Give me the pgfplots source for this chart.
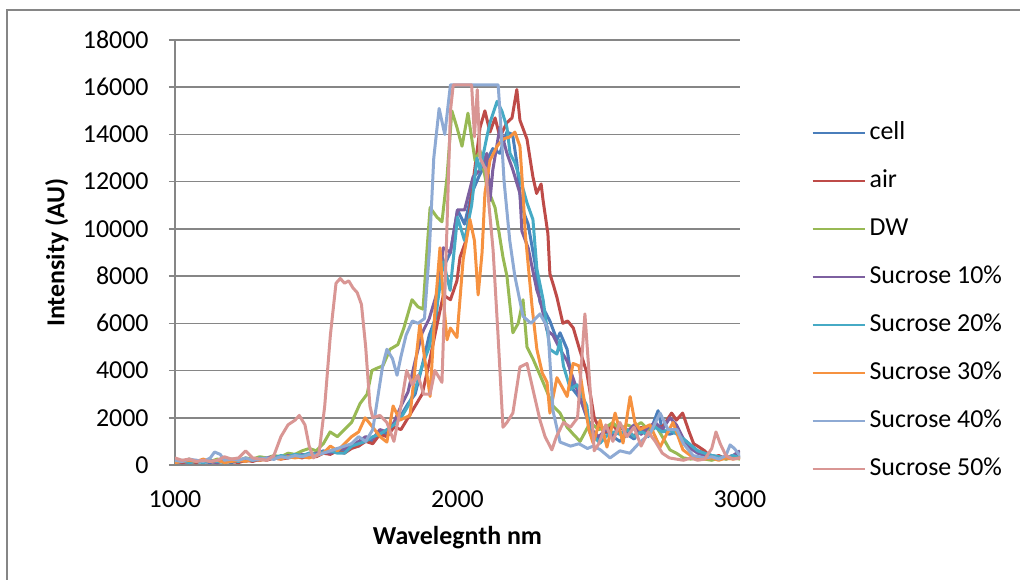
\documentclass[border=0pt]{standalone}
\usepackage{fontspec}
\setmainfont{Carlito}
\usepackage{pgfplots}
\pgfplotsset{compat=1.18}
\definecolor{gridgray}{HTML}{868686}
\definecolor{cCell}{HTML}{4A7EBB}
\definecolor{cAir}{HTML}{BE4B48}
\definecolor{cDW}{HTML}{98B954}
\definecolor{cSten}{HTML}{7D60A0}
\definecolor{cStwenty}{HTML}{46AAC5}
\definecolor{cSthirty}{HTML}{F69240}
\definecolor{cSforty}{HTML}{8EAAD4}
\definecolor{cSfifty}{HTML}{D99694}
\newcommand{\chartfont}{\fontsize{13}{15.6}\selectfont}

\begin{document}
\chartfont
\begin{tikzpicture}
\useasboundingbox (0,0) rectangle (510bp,290bp);
\draw[gridgray, line width=0.75bp] (3.5bp,0) -- (3.5bp,285bp) -- (510bp,285bp);
\begin{axis}[
  at={(87.5bp,57.5bp)}, anchor=south west,
  scale only axis, width=282.5bp, height=212.5bp,
  xmin=1000, xmax=3000, ymin=0, ymax=18000,
  xtick={1000,2000,3000}, ytick={0,2000,...,18000},
  scaled ticks=false,
  /pgf/number format/1000 sep={},
  /pgf/number format/assume math mode=true,
  axis x line*=bottom, axis y line*=left,
  axis line style={gridgray, line width=0.75bp},
  ymajorgrids, major grid style={gridgray, line width=0.75bp},
  tick align=outside, major tick length=3bp,
  tick style={gridgray, line width=0.75bp},
  x tick style={draw=none},
  tick label style={font=\chartfont},
  yticklabel style={anchor=east, inner sep=0pt, xshift=-10bp},
  xticklabel style={anchor=north, inner sep=0pt, yshift=-9.5bp},
  xlabel={\textbf{Wavelegnth nm}}, ylabel={\textbf{Intensity (AU)}},
  label style={font=\chartfont},
  xlabel style={at={(axis description cs:0.5,-0.172)}, anchor=center},
  ylabel style={at={(axis description cs:-0.209,0.5)}, anchor=center},
  no markers,
  every axis plot/.append style={line width=1.5bp, line join=round},
  legend cell align=left,
  legend style={at={(1.126,0.385)}, anchor=west, draw=none, fill=none,
    inner sep=0pt, row sep=12bp, column sep=2bp,
    nodes={inner sep=0pt, text height=9bp, text depth=3bp, font=\chartfont}},
  legend image code/.code={\draw[#1, line width=1bp] (0bp,0bp) -- (26bp,0bp);},
]
% cell
\addplot[cCell] coordinates {
(1000,150)(1025,100)(1050,200)(1075,120)(1100,150)(1125,100)(1150,200)(1175,150)(1200,100)
(1225,200)(1250,150)(1275,250)(1300,200)(1325,300)(1350,250)(1375,350)(1400,300)(1425,400)
(1450,350)(1475,500)(1500,450)(1525,600)(1550,500)(1575,700)(1600,600)(1625,900)(1650,800)
(1675,1100)(1700,1000)(1725,1400)(1750,1300)(1775,1700)(1800,2100)(1825,2600)(1850,3000)
(1875,4200)(1900,5500)(1925,6300)(1940,9000)(1955,8500)(1975,9000)(2000,10800)(2025,10200)
(2050,11500)(2075,12200)(2100,12800)(2125,13400)(2150,13200)(2175,14100)(2195,14000)(2210,12800)
(2225,11000)(2250,10200)(2275,8500)(2292,6900)(2327,6100)(2352,5300)(2363,5600)(2388,4900)
(2409,3200)(2435,2800)(2458,2000)(2480,1200)(2500,1100)(2525,1400)(2550,1200)(2575,1000)
(2600,1300)(2625,1100)(2650,1500)(2675,1200)(2710,2300)(2725,1500)(2750,1300)(2775,1400)
(2800,1100)(2834,760)(2850,600)(2875,500)(2900,400)(2925,350)(2950,300)(2975,400)(3000,350)};
% air
\addplot[cAir] coordinates {
(1000,200)(1025,100)(1050,150)(1075,100)(1100,200)(1125,150)(1150,100)(1175,200)(1200,150)
(1225,100)(1250,200)(1275,150)(1300,250)(1325,200)(1350,300)(1375,250)(1400,300)(1425,350)
(1450,300)(1475,400)(1500,350)(1525,500)(1550,450)(1575,600)(1600,500)(1625,700)(1650,800)
(1675,1000)(1700,900)(1725,1300)(1750,1200)(1775,1600)(1800,1500)(1825,2000)(1850,2500)
(1875,3000)(1903,4500)(1925,5800)(1950,7200)(1975,7000)(1998,7800)(2009,8800)(2030,9500)
(2050,11500)(2080,14300)(2097,15000)(2115,14100)(2133,14700)(2150,13900)(2175,14500)(2193,14700)
(2210,15900)(2221,14600)(2246,13800)(2267,12200)(2280,11500)(2296,11900)(2303,11200)(2320,9800)
(2327,8100)(2340,7600)(2352,7100)(2373,6000)(2390,6100)(2410,5800)(2432,4900)(2458,3900)
(2484,2000)(2500,1600)(2525,1400)(2550,1700)(2575,1300)(2600,1500)(2625,1200)(2650,1600)
(2675,1400)(2700,1700)(2725,1600)(2758,2200)(2775,1900)(2797,2200)(2820,1400)(2836,900)
(2850,800)(2875,600)(2900,300)(2925,400)(2950,250)(2975,350)(3000,300)};
% DW
\addplot[cDW] coordinates {
(1000,200)(1025,150)(1050,250)(1075,150)(1100,200)(1125,150)(1150,250)(1175,200)(1200,250)
(1225,200)(1250,300)(1275,250)(1300,350)(1325,300)(1350,400)(1375,350)(1400,500)(1425,450)
(1450,600)(1475,700)(1500,600)(1525,900)(1549,1400)(1575,1200)(1600,1500)(1625,1800)
(1655,2600)(1680,3000)(1697,4000)(1715,4100)(1736,4200)(1761,4900)(1789,5100)(1810,5800)
(1839,7000)(1860,6700)(1878,6600)(1892,9100)(1903,10900)(1927,10500)(1945,10300)(1963,12200)
(1980,15000)(1998,14300)(2016,13500)(2037,14900)(2062,12900)(2080,13300)(2104,11800)
(2133,10900)(2161,8800)(2175,8000)(2196,5600)(2215,6000)(2232,7000)(2246,5000)(2267,4500)
(2303,3500)(2338,2500)(2363,2200)(2388,1600)(2410,1300)(2434,1000)(2470,1800)(2500,1500)
(2525,1600)(2550,1800)(2575,1500)(2600,1700)(2625,1600)(2650,1800)(2675,1500)(2700,1700)
(2725,1200)(2752,640)(2775,500)(2800,300)(2825,250)(2850,300)(2875,250)(2900,200)(2925,300)
(2950,250)(2975,300)(3000,250)};
% Sucrose 10%
\addplot[cSten] coordinates {
(1000,100)(1025,150)(1050,100)(1075,200)(1100,120)(1125,150)(1150,100)(1175,200)(1200,150)
(1225,250)(1250,200)(1275,250)(1300,200)(1325,300)(1350,350)(1375,300)(1400,400)(1425,350)
(1450,450)(1475,400)(1500,500)(1525,550)(1550,500)(1575,650)(1600,700)(1625,800)(1650,1000)
(1675,1200)(1700,1100)(1725,1500)(1750,1400)(1775,1800)(1800,2500)(1825,3100)(1850,4400)
(1875,5600)(1900,6200)(1925,7200)(1950,9200)(1975,9000)(2000,10800)(2025,10800)(2055,12200)
(2080,12500)(2104,13200)(2115,11200)(2125,12500)(2150,14300)(2175,13200)(2196,12500)
(2221,11500)(2228,9900)(2250,9200)(2281,7400)(2292,7000)(2317,5700)(2338,5500)(2363,4900)
(2388,4400)(2423,3200)(2450,2300)(2475,1500)(2500,1200)(2525,1500)(2550,1300)(2575,1600)
(2600,1400)(2625,1700)(2650,1300)(2675,1600)(2700,1800)(2725,1500)(2752,2000)(2775,1700)
(2800,1100)(2825,700)(2850,500)(2875,400)(2900,300)(2925,250)(2950,300)(2975,400)(3000,600)};
% Sucrose 20%
\addplot[cStwenty] coordinates {
(1000,150)(1025,200)(1050,100)(1075,150)(1100,100)(1125,200)(1150,150)(1175,100)(1200,200)
(1225,150)(1250,250)(1275,200)(1300,300)(1325,250)(1350,300)(1375,400)(1400,350)(1425,450)
(1450,400)(1475,500)(1500,450)(1525,550)(1550,600)(1575,500)(1600,500)(1625,800)(1650,900)
(1675,1000)(1700,1200)(1725,1300)(1750,1500)(1775,1700)(1800,2000)(1825,2500)(1850,3200)
(1875,4200)(1900,5000)(1925,6500)(1950,8600)(1974,7400)(2000,10500)(2025,9500)(2050,11000)
(2069,13000)(2080,12500)(2104,13900)(2115,14500)(2140,15400)(2157,15000)(2175,14300)
(2186,13200)(2203,12800)(2225,12000)(2246,11100)(2267,10400)(2281,8300)(2303,7000)(2327,4900)
(2352,4700)(2363,5300)(2375,4200)(2400,3200)(2423,3400)(2458,2500)(2469,1350)(2505,930)
(2525,1200)(2550,1400)(2575,1300)(2600,1500)(2625,1200)(2650,1400)(2675,1300)(2700,1600)
(2725,1400)(2750,1500)(2777,1300)(2800,1100)(2834,760)(2850,600)(2875,500)(2900,400)
(2925,350)(2950,300)(2975,400)(3000,300)};
% Sucrose 30%
\addplot[cSthirty] coordinates {
(1000,100)(1025,150)(1050,200)(1075,150)(1100,250)(1125,150)(1150,200)(1175,100)(1200,150)
(1225,200)(1250,150)(1275,250)(1300,200)(1325,250)(1350,300)(1375,250)(1400,350)(1425,300)
(1450,350)(1475,300)(1500,400)(1525,500)(1550,800)(1575,600)(1600,900)(1625,1200)(1650,1400)
(1673,2000)(1700,1600)(1726,1200)(1750,970)(1772,2500)(1796,1900)(1832,2100)(1857,4900)
(1867,6000)(1885,4400)(1903,2900)(1920,6500)(1938,9200)(1950,7000)(1963,5300)(1975,5800)
(1998,5400)(2020,8700)(2044,10400)(2060,9500)(2073,7200)(2087,9000)(2097,11500)(2115,12900)
(2140,13500)(2161,13800)(2186,13900)(2203,14100)(2221,13500)(2232,11500)(2240,9800)
(2264,6700)(2281,4900)(2300,3900)(2317,3500)(2327,2200)(2352,3700)(2375,3200)(2388,2900)
(2409,4300)(2430,4200)(2445,3000)(2465,1500)(2480,930)(2505,1900)(2529,760)(2558,2200)
(2586,930)(2611,2900)(2628,1800)(2646,1500)(2681,1700)(2717,760)(2740,1300)(2763,1800)
(2798,640)(2825,400)(2850,300)(2875,250)(2900,300)(2925,200)(2950,300)(2975,250)(3000,300)};
% Sucrose 40%
\addplot[cSforty] coordinates {
(1000,200)(1025,150)(1050,250)(1075,200)(1100,150)(1125,300)(1140,550)(1160,450)(1175,200)
(1200,250)(1225,200)(1250,300)(1275,200)(1300,250)(1325,300)(1350,250)(1375,350)(1400,300)
(1425,400)(1450,350)(1475,450)(1500,400)(1525,500)(1550,600)(1575,700)(1600,800)(1625,900)
(1650,1200)(1675,1000)(1700,1500)(1713,2500)(1735,4200)(1750,4900)(1770,4500)(1786,3800)
(1800,4600)(1818,5500)(1840,6100)(1860,6000)(1883,6200)(1900,9000)(1916,13000)(1935,15100)
(1955,14000)(1975,16100)(2000,16100)(2050,16100)(2100,16100)(2144,16100)(2150,15000)
(2165,12000)(2185,9500)(2203,8000)(2232,6300)(2260,6000)(2292,6400)(2320,5800)(2338,2300)
(2363,970)(2400,800)(2430,900)(2460,700)(2480,800)(2505,650)(2540,300)(2575,600)(2610,500)
(2646,970)(2680,1300)(2717,2200)(2745,1500)(2777,1500)(2800,900)(2834,400)(2875,300)
(2900,350)(2925,250)(2950,400)(2965,850)(2980,700)(3000,400)};
% Sucrose 50%
\addplot[cSfifty] coordinates {
(1000,300)(1025,200)(1050,250)(1075,150)(1100,200)(1125,150)(1150,200)(1175,350)(1200,250)
(1225,300)(1250,600)(1275,300)(1300,250)(1325,200)(1350,400)(1375,1200)(1400,1700)(1425,1900)
(1440,2100)(1460,1700)(1475,800)(1490,300)(1510,500)(1530,2500)(1550,5500)(1570,7700)
(1585,7900)(1600,7700)(1615,7800)(1630,7500)(1645,7300)(1660,6800)(1675,5000)(1690,2500)
(1700,2000)(1725,2100)(1750,1800)(1775,1000)(1800,2500)(1820,4000)(1840,3400)(1860,3800)
(1880,3000)(1903,3000)(1920,4000)(1945,3500)(1960,9000)(1975,15000)(1985,16100)(2000,16100)
(2050,16100)(2060,13900)(2070,15900)(2080,13000)(2100,12500)(2126,9100)(2143,5600)(2161,1600)
(2175,1800)(2196,2200)(2221,4150)(2246,4300)(2267,3200)(2292,1900)(2310,1200)(2334,640)
(2350,1200)(2375,1800)(2400,1600)(2425,2000)(2440,4500)(2451,6400)(2465,4000)(2484,600)
(2500,900)(2525,1700)(2550,1000)(2575,1800)(2600,1200)(2625,1600)(2650,800)(2675,1400)
(2700,1000)(2725,500)(2750,300)(2775,250)(2800,200)(2825,300)(2850,200)(2875,250)(2900,700)
(2915,1400)(2930,900)(2950,400)(2975,250)(3000,300)};
\legend{cell,air,DW,Sucrose 10\%,Sucrose 20\%,Sucrose 30\%,Sucrose 40\%,Sucrose 50\%}
\end{axis}
\end{tikzpicture}
\end{document}
